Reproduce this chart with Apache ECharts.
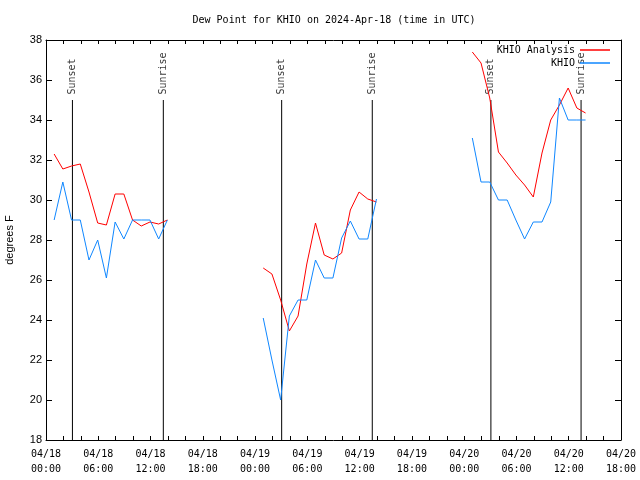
<!DOCTYPE html>
<html>
<head>
<meta charset="utf-8">
<script src="https://cdn.jsdelivr.net/npm/echarts@6/dist/echarts.min.js"></script>
<style>html,body{margin:0;padding:0;background:#fff}#c{width:640px;height:480px}</style>
</head>
<body>
<div id="c"></div>
<script>
// Observation times (UTC), three segments
const times1 = ['04-18 00:56','04-18 01:56','04-18 02:56','04-18 03:56','04-18 04:56','04-18 05:56','04-18 06:56','04-18 07:56','04-18 08:56','04-18 09:56','04-18 10:56','04-18 11:56','04-18 12:56','04-18 13:56'];
const times2 = ['04-19 00:56','04-19 01:56','04-19 02:56','04-19 03:56','04-19 04:56','04-19 05:56','04-19 06:56','04-19 07:56','04-19 08:56','04-19 09:56','04-19 10:56','04-19 11:56','04-19 12:56','04-19 13:56'];
const times3 = ['04-20 00:56','04-20 01:56','04-20 02:56','04-20 03:56','04-20 04:56','04-20 05:56','04-20 06:56','04-20 07:56','04-20 08:56','04-20 09:56','04-20 10:56','04-20 11:56','04-20 12:56','04-20 13:56'];

// KHIO Analysis (red)
const analysis1 = [32.3, 31.55, 31.7, 31.8, 30.4, 28.85, 28.75, 30.3, 30.3, 29.0, 28.7, 28.9, 28.8, 29.0];
const analysis2 = [26.6, 26.3, 25.0, 23.45, 24.2, 26.8, 28.85, 27.25, 27.05, 27.35, 29.5, 30.4, 30.05, 29.9];
const analysis3 = [37.4, 36.85, 35.1, 32.4, 31.85, 31.25, 30.75, 30.15, 32.35, 34.0, 34.75, 35.6, 34.6, 34.35];

// KHIO observed (blue)
const obs1 = [29.0, 30.9, 29.0, 29.0, 27.0, 28.0, 26.1, 28.9, 28.05, 29.0, 29.0, 29.0, 28.05, 29.0];
const obs2 = [24.1, 22.0, 20.0, 24.2, 25.0, 25.0, 27.0, 26.1, 26.1, 28.1, 28.95, 28.05, 28.05, 30.05];
const obs3 = [33.1, 30.9, 30.9, 30.0, 30.0, 29.0, 28.05, 28.9, 28.9, 29.9, 35.1, 34.0, 34.0, 34.0];

// Sun events (UTC)
const sunNames = ['Sunset','Sunrise','Sunset','Sunrise','Sunset','Sunrise'];
const sunTimes = ['04-18 03:02','04-18 13:28','04-19 03:03','04-19 13:27','04-20 03:04','04-20 13:25'];
const sunLineBottom = 18;
const sunLineTop = 35;

const yTicks = [18, 20, 22, 24, 26, 28, 30, 32, 34, 36, 38];

function toHours(s) {
  const m = s.match(/(\d+)-(\d+) (\d+):(\d+)/);
  const t = Date.UTC(2024, +m[1] - 1, +m[2], +m[3], +m[4]);
  return (t - Date.UTC(2024, 3, 18, 0, 0)) / 3600000;
}
function seg(times, vals) { return times.map((t, i) => [toHours(t), vals[i]]); }
const GAP = ['-', '-'];
const analysisData = [].concat(seg(times1, analysis1), [GAP], seg(times2, analysis2), [GAP], seg(times3, analysis3));
const obsData = [].concat(seg(times1, obs1), [GAP], seg(times2, obs2), [GAP], seg(times3, obs3));

const sunLineData = [];
sunTimes.forEach((t, i) => {
  const h = toHours(t);
  sunLineData.push([h, sunLineBottom], [h, sunLineTop]);
  if (i < sunTimes.length - 1) sunLineData.push(['-', '-']);
});
const sunLabelData = sunTimes.map((t, i) => ({ name: sunNames[i], value: [toHours(t), sunLineTop] }));

const MONO = 'DejaVu Sans Mono';
const SANS = 'Liberation Sans';
function pad(n) { return (n < 10 ? '0' : '') + n; }

const chart = echarts.init(document.getElementById('c'), null, { renderer: 'canvas' });
chart.setOption({
  animation: false,
  backgroundColor: '#ffffff',
  title: {
    text: 'Dew Point for KHIO on 2024-Apr-18 (time in UTC)',
    left: 329, top: 10, textAlign: 'center',
    textStyle: { fontFamily: MONO, fontSize: 10, fontWeight: 'normal', color: '#000' }
  },
  legend: [
    { data: ['KHIO Analysis'], right: 30, top: 45, align: 'right', icon: 'rect', itemWidth: 30, itemHeight: 1.5, itemGap: 3,
      textStyle: { fontFamily: MONO, fontSize: 10, color: '#000' }, padding: 0 },
    { data: ['KHIO'], right: 30, top: 58, align: 'right', icon: 'rect', itemWidth: 30, itemHeight: 1.5, itemGap: 3,
      textStyle: { fontFamily: MONO, fontSize: 10, color: '#000' }, padding: 0 }
  ],
  grid: { left: 46, right: 19, top: 40, bottom: 40, containLabel: false, outerBoundsMode: 'none' },
  xAxis: [
    {
      type: 'value', min: 0, max: 66, interval: 2, position: 'bottom',
      axisLine: { show: true, onZero: false, lineStyle: { color: '#000', width: 1 } },
      axisTick: { show: true, inside: true, length: 4, lineStyle: { color: '#000' } },
      splitLine: { show: false },
      axisLabel: {
        show: true, margin: 7, fontFamily: MONO, fontSize: 10, color: '#000', lineHeight: 15,
        formatter: function (v) {
          if (Math.round(v) % 6 !== 0) return '';
          const day = 18 + Math.floor(v / 24);
          const hh = v % 24;
          return '04/' + day + '\n' + pad(hh) + ':00';
        }
      }
    },
    {
      type: 'value', min: 0, max: 66, interval: 2, position: 'top',
      axisLine: { show: true, onZero: false, lineStyle: { color: '#000', width: 1 } },
      axisTick: { show: true, inside: true, length: 4, lineStyle: { color: '#000' } },
      splitLine: { show: false }, axisLabel: { show: false }
    }
  ],
  yAxis: [
    {
      type: 'value', min: 18, max: 38, interval: 2, position: 'left',
      name: 'degrees F', nameLocation: 'middle', nameGap: 31,
      nameTextStyle: { fontFamily: SANS, fontSize: 11, color: '#000' },
      axisLine: { show: true, onZero: false, lineStyle: { color: '#000', width: 1 } },
      axisTick: { show: true, inside: true, length: 6, lineStyle: { color: '#000' } },
      splitLine: { show: false },
      axisLabel: { show: true, margin: 4, fontFamily: SANS, fontSize: 11, color: '#000',
        formatter: function (v) { return yTicks.indexOf(v) >= 0 ? String(v) : ''; } }
    },
    {
      type: 'value', min: 18, max: 38, interval: 2, position: 'right',
      axisLine: { show: true, onZero: false, lineStyle: { color: '#000', width: 1 } },
      axisTick: { show: true, inside: true, length: 6, lineStyle: { color: '#000' } },
      splitLine: { show: false }, axisLabel: { show: false }
    }
  ],
  series: [
    {
      name: 'sunlines', type: 'line', data: sunLineData, showSymbol: false, symbol: 'none',
      connectNulls: false, silent: true,
      lineStyle: { color: '#000', width: 1 }, itemStyle: { color: '#000' }, z: 1
    },
    {
      name: 'sunlabels', type: 'scatter', data: sunLabelData, symbolSize: 1,
      itemStyle: { color: 'rgba(0,0,0,0)' }, silent: true,
      label: { show: true, formatter: '{b}', position: 'top', distance: 5, rotate: 90,
        align: 'left', verticalAlign: 'middle', fontFamily: MONO, fontSize: 10, color: '#000' }
    },
    {
      name: 'KHIO Analysis', type: 'line', data: analysisData, showSymbol: false, symbol: 'none',
      connectNulls: false,
      lineStyle: { color: '#ff0000', width: 1 }, itemStyle: { color: '#ff0000' }, z: 3
    },
    {
      name: 'KHIO', type: 'line', data: obsData, showSymbol: false, symbol: 'none',
      connectNulls: false,
      lineStyle: { color: '#0f87ff', width: 1 }, itemStyle: { color: '#0f87ff' }, z: 4
    }
  ]
});
</script>
</body>
</html>
